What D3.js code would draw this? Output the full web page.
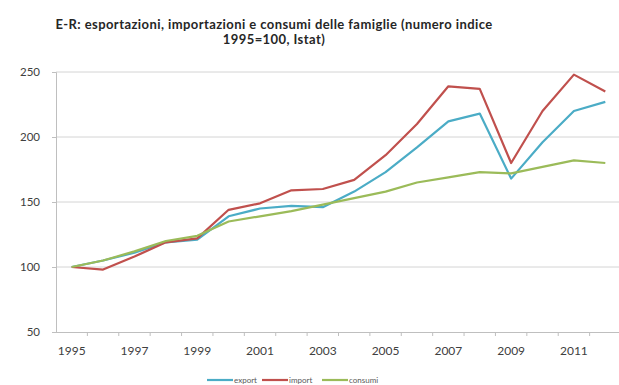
<!DOCTYPE html>
<html><head><meta charset="utf-8">
<script src="https://cdn.jsdelivr.net/npm/d3@7"></script>
<style>body{margin:0;background:#fff;} svg{display:block;}</style>
</head><body>
<svg id="c" width="619" height="385"></svg>
<script>
const years = [1995,1996,1997,1998,1999,2000,2001,2002,2003,2004,2005,2006,2007,2008,2009,2010,2011,2012];
const exportVals = [100,105,111,119,121,139,145,147,146,158,173,192,212,218,168,196,220,227];
const importVals = [100,98,108,119,122,144,149,159,160,167,186,210,239,237,180,220,248,235];
const consumiVals = [100,105,112,120,124,135,139,143,148,153,158,165,169,173,172,177,182,180];
const seriesNames = ["export","import","consumi"];
const seriesColors = ["#4bacc6","#c0504d","#9bbb59"];
const yTicks = [50,100,150,200,250];
const titleLines = ["E-R: esportazioni, importazioni e consumi delle famiglie (numero indice","1995=100, Istat)"];

(function(){
const svg = d3.select("#c");
const pL = 56, pR = 621, pT = 72, pB = 332;
const x = d3.scaleBand().domain(years).range([pL, pR]);
const y = d3.scaleLinear().domain([50,250]).range([pB, pT]);
const font = "Lato, 'Open Sans', sans-serif";

// title
svg.append("g").selectAll("text").data(titleLines).join("text")
  .attr("x", 274).attr("y", (d,i)=>29+i*15)
  .attr("text-anchor","middle").attr("font-family",font).attr("font-weight","bold")
  .attr("font-size",13).attr("letter-spacing",0.42).attr("fill","#262626").text(d=>d);

// gridlines
svg.append("g").selectAll("line").data(yTicks.slice(1)).join("line")
  .attr("x1", pL).attr("x2", 619).attr("y1", d=>y(d)).attr("y2", d=>y(d))
  .attr("stroke","#d4d4d4").attr("stroke-width",1);

// y axis
const yAxis = d3.axisLeft(y).tickValues(yTicks).tickSize(4).tickPadding(12);
const gy = svg.append("g").attr("transform",`translate(${pL},0)`).call(yAxis);
gy.select(".domain").attr("stroke","#bfbfbf");
gy.selectAll(".tick line").attr("stroke","#bfbfbf");
gy.selectAll("text").attr("font-family",font).attr("font-size",11.5).attr("fill","#404040");

// x axis
const xAxis = d3.axisBottom(x).tickValues(years.filter((d,i)=>i%2===0)).tickSize(0).tickPadding(14);
const gx = svg.append("g").attr("transform",`translate(0,${pB})`).call(xAxis);
gx.select(".domain").attr("stroke","#bfbfbf").attr("d",`M${pL},0.5H619`);
gx.selectAll("text").attr("font-family",font).attr("font-size",12).attr("fill","#404040");
// category boundary ticks
svg.append("g").selectAll("line").data(years.slice(1)).join("line")
  .attr("x1", d=>x(d)).attr("x2", d=>x(d)).attr("y1", pB).attr("y2", pB+4)
  .attr("stroke","#bfbfbf");

// lines
const allVals = [exportVals, importVals, consumiVals];
const line = d3.line().x((d,i)=>x(years[i])+x.bandwidth()/2).y(d=>y(d));
svg.append("g").selectAll("path").data(allVals).join("path")
  .attr("d", d=>line(d)).attr("fill","none")
  .attr("stroke",(d,i)=>seriesColors[i]).attr("stroke-width",2.2)
  .attr("stroke-linejoin","round");

// legend
const legX = [207, 262, 322];
const lg = svg.append("g").selectAll("g").data(seriesNames).join("g")
  .attr("transform",(d,i)=>`translate(${legX[i]},380)`);
lg.append("line").attr("x1",0).attr("x2",26).attr("y1",0).attr("y2",0)
  .attr("stroke",(d,i)=>seriesColors[i]).attr("stroke-width",2.2);
lg.append("text").attr("x",27).attr("y",3).attr("font-family",font).attr("font-size",8)
  .attr("fill","#595959").text(d=>d);
})();
</script>
</body></html>
